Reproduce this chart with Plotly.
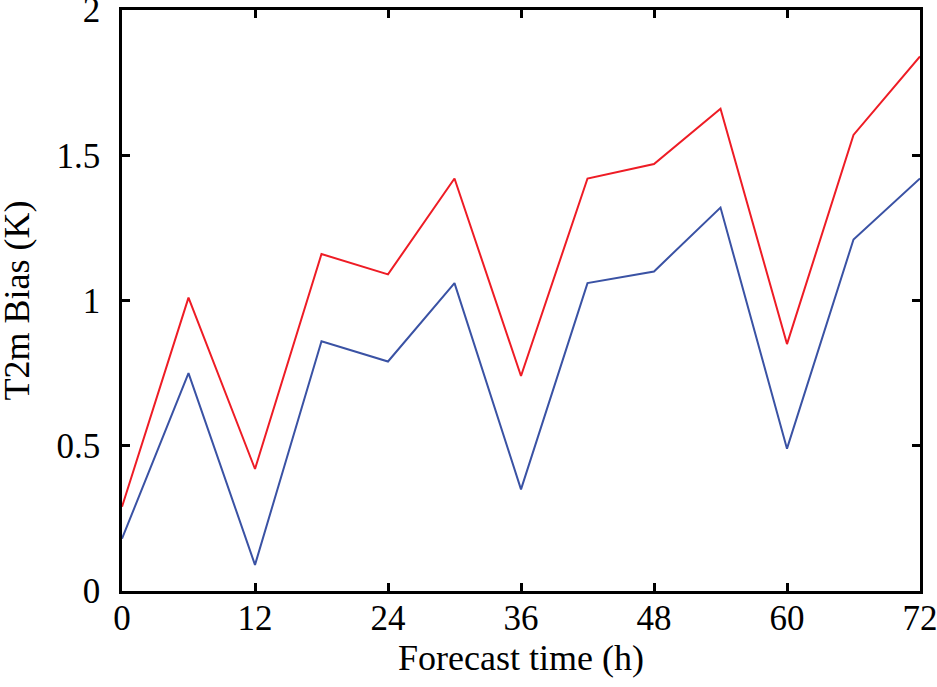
import plotly.graph_objs as go

# Forecast lead times (h)
forecast_hours = [0, 6, 12, 18, 24, 30, 36, 42, 48, 54, 60, 66, 72]

# T2m bias (K) for the two runs
bias_red = [0.29, 1.01, 0.42, 1.16, 1.09, 1.42, 0.74, 1.42, 1.47, 1.66, 0.85, 1.57, 1.84]
bias_blue = [0.18, 0.75, 0.09, 0.86, 0.79, 1.06, 0.35, 1.06, 1.10, 1.32, 0.49, 1.21, 1.42]

x_ticks = [0, 12, 24, 36, 48, 60, 72]
y_ticks = [0, 0.5, 1, 1.5, 2]
y_labels = ["0", "0.5", "1", "1.5", "2"]

FONT = "Liberation Serif, Times New Roman, serif"

fig = go.Figure()
fig.add_trace(go.Scatter(x=forecast_hours, y=bias_red, mode='lines',
                         line=dict(color='#ee1c25', width=2), name='red'))
fig.add_trace(go.Scatter(x=forecast_hours, y=bias_blue, mode='lines',
                         line=dict(color='#3a52a4', width=2), name='blue'))

axis_style = dict(
    showgrid=False, zeroline=False, automargin=False,
    showline=True, linecolor='black', linewidth=2.5, mirror='ticks',
    ticks='inside', ticklen=8, tickwidth=2.5, tickcolor='black',
    tickfont=dict(family=FONT, size=35, color='black'),
    ticklabeloverflow='allow',
)

fig.update_layout(
    width=937, height=687,
    margin=dict(l=122, r=17, t=10, b=96),
    paper_bgcolor='white', plot_bgcolor='white',
    showlegend=False,
    font=dict(family=FONT, size=36, color='black'),
    xaxis=dict(range=[0, 72], tickvals=x_ticks, ticklabelstandoff=-6,
               title=dict(text='Forecast time (h)', font=dict(family=FONT, size=36), standoff=2),
               **axis_style),
    yaxis=dict(range=[0, 2], tickvals=y_ticks, ticktext=y_labels, ticklabelstandoff=12,
               **axis_style),
)

# y title as an annotation so it can sit right at the left edge
fig.add_annotation(text='T2m Bias (K)', textangle=-90, showarrow=False,
                   xref='paper', yref='paper', x=-0.1316, y=0.5,
                   xanchor='center', yanchor='middle',
                   font=dict(family=FONT, size=36, color='black'))

# drop the default page margin so the figure sits at the window corner
fig.write_html("out.html", config={'displayModeBar': False},
               post_script="document.body.style.margin='0';")
